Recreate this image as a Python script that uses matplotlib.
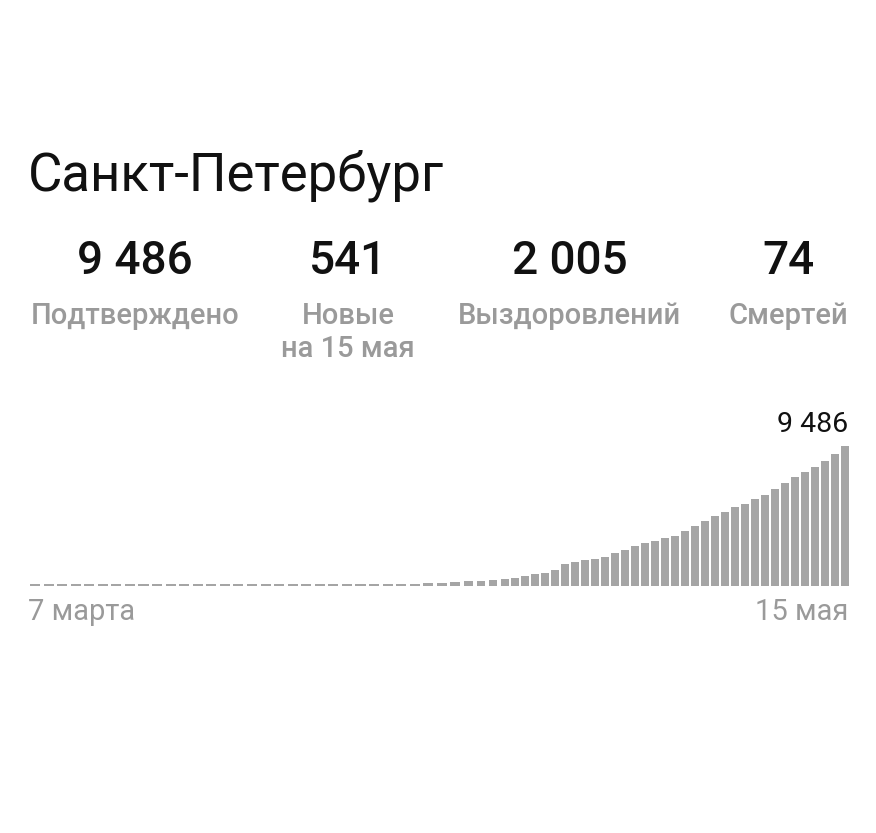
import numpy as np
import matplotlib
matplotlib.use("Agg")
import matplotlib.pyplot as plt
from matplotlib.scale import FuncScale

plt.rcParams['font.family'] = ['Roboto', 'DejaVu Sans']

# data
title = "Санкт-Петербург"
stat_values = [9486, 541, 2005, 74]
stat_labels = ["Подтверждено", "Новые\nна 15 мая", "Выздоровлений", "Смертей"]
first_day = "7 марта"
last_day = "15 мая"
# cumulative confirmed cases, 7 March .. 15 May
cases = [1, 1, 1, 1, 1, 2, 2, 3, 3, 4, 5, 6, 8, 10, 13, 16, 20, 26, 31, 36,
         45, 55, 65, 75, 83, 90, 95, 102, 110, 165, 175, 240, 300, 310, 370,
         440, 510, 650, 780, 850, 1050, 1460, 1600, 1735, 1800, 1940, 2210,
         2415, 2690, 2890, 3030, 3230, 3370, 3710, 4050, 4390, 4730, 5000,
         5340, 5540, 5880, 6150, 6560, 6970, 7380, 7720, 8060, 8460, 8945, 9486]

W, H = 876, 833
fig = plt.figure(figsize=(W / 100, H / 100), dpi=100)

def fx(x):
    return x / W

def fy(y):
    return 1 - y / H

# the screenshot is wider on the left part, mimic with a piecewise scale
xp = [-10, 0, 32, 35, 69, 80]
fp = [35 - 135.6, 35, 469, 505, 845, 955]

def fwd(x):
    return np.interp(x, xp, fp)

def inv(p):
    return np.interp(p, fp, xp)

base_px, top_px = 585.5, 446
ymax = 10000
span = (base_px - top_px) / cases[-1] * ymax
ax = fig.add_axes([0, fy(base_px), 1, span / H])
ax.set_xscale(FuncScale(ax.xaxis, (fwd, inv)))

idx = np.arange(len(cases))
min_h = 1.8 / span * ymax
heights = np.maximum(np.array(cases, dtype=float), min_h)
ax.bar(idx, heights, width=0.74, color='#a5a5a5', linewidth=0)
ax.set_xlim(inv(0), inv(W))
ax.set_ylim(0, ymax)
ax.axis('off')

ax.annotate(f"{cases[-1]:,}".replace(",", " "), xy=(idx[-1] + 0.37, cases[-1]),
            xytext=(0, 6), textcoords='offset points', ha='right', va='bottom',
            fontsize=20.5, color='#111111')

fig.text(fx(28), fy(176), title, fontsize=38, color='#111111', ha='left', va='center')

centers = [135, 348, 570, 788]
for c, v, lab in zip(centers, stat_values, stat_labels):
    fig.text(fx(c), fy(261), f"{v:,}".replace(",", " "), fontsize=33, fontweight='medium',
             color='#111111', ha='center', va='center')
    fig.text(fx(c), fy(302), lab, fontsize=21, fontweight='medium', color='#9a9a9a',
             ha='center', va='top', linespacing=1.22)

fig.text(fx(28), fy(612), first_day, fontsize=21, color='#9a9a9a', ha='left', va='center')
fig.text(fx(848), fy(612), last_day, fontsize=21, color='#9a9a9a', ha='right', va='center')

fig.savefig("out.png", dpi=100, facecolor='white')
